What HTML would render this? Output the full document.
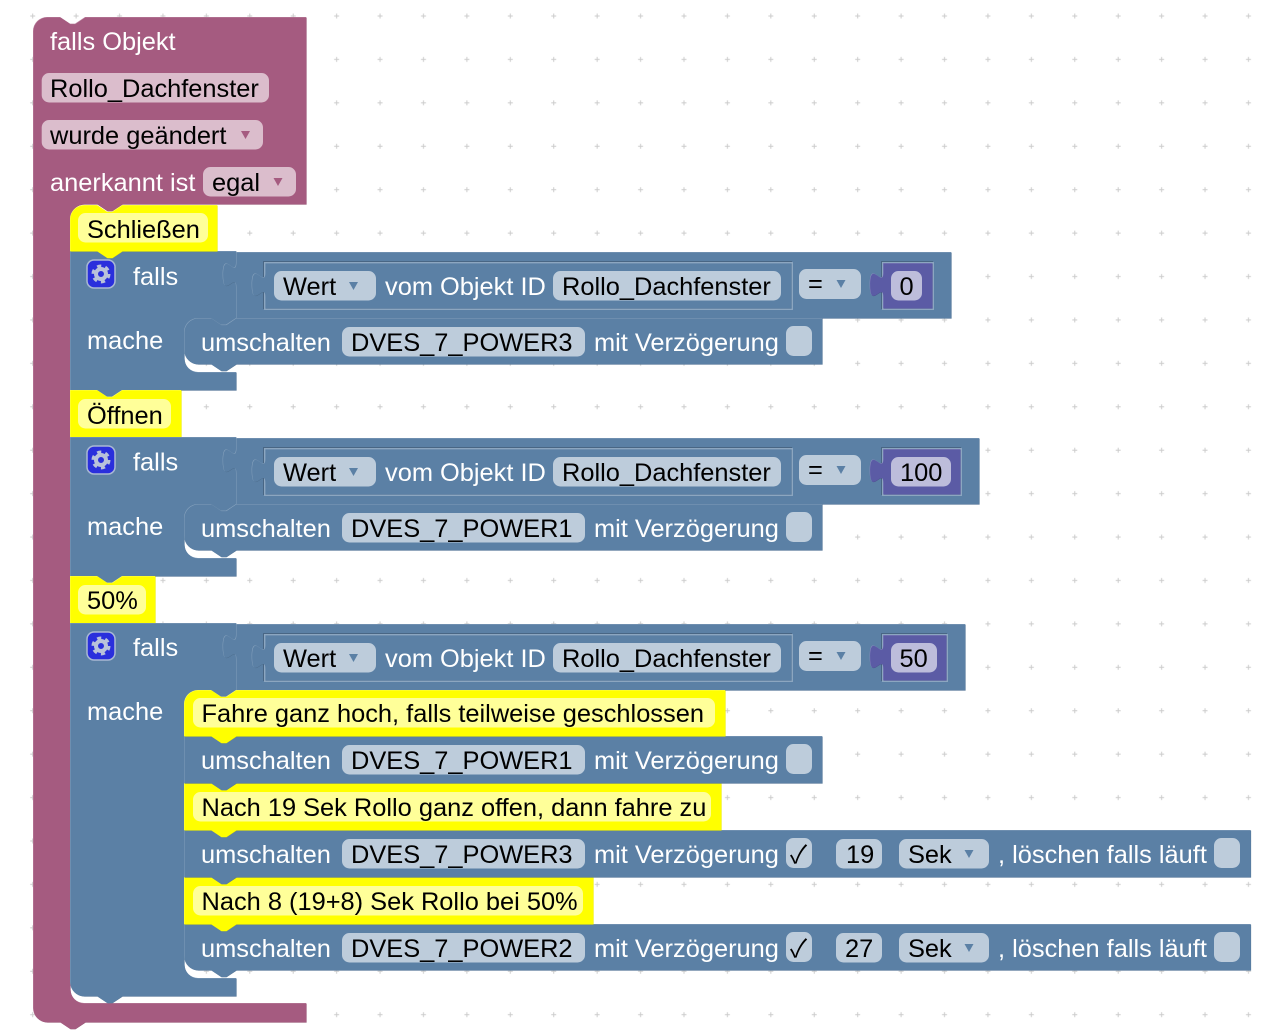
<!DOCTYPE html>
<html><head><meta charset="utf-8">
<style>
html,body{margin:0;padding:0;background:#fff}
svg{display:block}
text{font-family:"Liberation Sans",sans-serif;font-size:25.4px}
.w{fill:#fff}.k{fill:#000}
.fb{fill:#bdccdb}.fp{fill:#dbbdcc}.fy{fill:#ffff99}.fv{fill:#bdbddb}
.ar{fill:#5b80a5}
.d,.sd{fill:#496684}.l,.sl{fill:#8ca6c0}.m{fill:#5b80a5}
.vd{fill:#494984}.vl{fill:#8c8cc0}.vm{fill:#5b5ba5}
.pd{fill:#844966}.pl{fill:#c08ca6}.pm{fill:#a55b80}
.yd{fill:#cccc00}.yl{fill:#ffff66}.ym{fill:#ffff00}
.d,.vd,.pd,.yd{transform:translate(.6px,.6px)}
.m,.vm,.pm,.ym{transform:translate(.4px,.4px)}
.ck{font-family:"Noto Sans CJK JP","DejaVu Sans",sans-serif;font-size:25px}
</style></head>
<body>
<svg xmlns="http://www.w3.org/2000/svg" width="1265" height="1032" viewBox="0 0 1265 1032">
<defs>
<pattern id="g" patternUnits="userSpaceOnUse" x="11" y="-5.7" width="43.42" height="43.42">
<path d="M19.2,21.7h5M21.7,19.2v5" stroke="#ccc" stroke-width="1" fill="none"/>
</pattern>
<path id="pink" d="M33,31a14,14 0 0 1 14,-14H60l10,6.67h5l10,-6.67H306V204H122l-10,6.67h-5l-10,-6.67H84a14,14 0 0 0 -14,14V989a14,14 0 0 0 14,14H306V1022H85l-10,6.67h-5l-10,-6.67H47a14,14 0 0 1 -14,-14Z"/>
<path id="if1" d="M70,251H236V318l-10,6.67h-5l-10,-6.67H198a14,14 0 0 0 -14,14V358a14,14 0 0 0 14,14H236V390H122l-10,6.67h-5l-10,-6.67H70Z"/>
<path id="if2" d="M70,437H236V504l-10,6.67h-5l-10,-6.67H198a14,14 0 0 0 -14,14V544a14,14 0 0 0 14,14H236V576H122l-10,6.67h-5l-10,-6.67H70Z"/>
<path id="if3" d="M70,623H236V690l-10,6.67h-5l-10,-6.67H198a14,14 0 0 0 -14,14V964a14,14 0 0 0 14,14H236V996H122l-10,6.67h-5l-10,-6.67H84a14,14 0 0 1 -14,-14Z"/>
<path id="y1" d="M70,219a14,14 0 0 1 14,-14H97l10,6.67h5l10,-6.67H217V251H122l-10,6.67h-5l-10,-6.67H70Z"/>
<path id="y2" d="M70,390H97l10,6.67h5l10,-6.67H181V437H122l-10,6.67h-5l-10,-6.67H70Z"/>
<path id="y3" d="M70,576H97l10,6.67h5l10,-6.67H155V623H122l-10,6.67h-5l-10,-6.67H70Z"/>
<path id="y4" d="M184,704a14,14 0 0 1 14,-14H211l10,6.67h5l10,-6.67H725V736H236l-10,6.67h-5l-10,-6.67H184Z"/>
<path id="y5" d="M184,783H211l10,6.67h5l10,-6.67H721V830H236l-10,6.67h-5l-10,-6.67H184Z"/>
<path id="y6" d="M184,877H211l10,6.67h5l10,-6.67H593V924H236l-10,6.67h-5l-10,-6.67H184Z"/>
<path id="v1" d="M236,252H951V318H236V287c0,-16.7 -13.3,13.3 -13.3,-12.5s13.3,4.2 13.3,-12.5Z"/>
<path id="v2" d="M236,438H979V504H236V473c0,-16.7 -13.3,13.3 -13.3,-12.5s13.3,4.2 13.3,-12.5Z"/>
<path id="v3" d="M236,624H965V690H236V659c0,-16.7 -13.3,13.3 -13.3,-12.5s13.3,4.2 13.3,-12.5Z"/>
<path id="w1" d="M265,263H791V308H265V297c0,-16.7 -13.3,13.3 -13.3,-12.5s13.3,4.2 13.3,-12.5Z"/>
<path id="n1" d="M883,263H932V308H883V297c0,-16.7 -13.3,13.3 -13.3,-12.5s13.3,4.2 13.3,-12.5Z"/>
<path id="n2" d="M883,449H960V494H883V483c0,-16.7 -13.3,13.3 -13.3,-12.5s13.3,4.2 13.3,-12.5Z"/>
<path id="n3" d="M883,635H946V680H883V669c0,-16.7 -13.3,13.3 -13.3,-12.5s13.3,4.2 13.3,-12.5Z"/>
<path id="u1" d="M184,332a14,14 0 0 1 14,-14H211l10,6.67h5l10,-6.67H822V364H236l-10,6.67h-5l-10,-6.67H198a14,14 0 0 1 -14,-14Z"/>
<path id="u2" d="M184,518a14,14 0 0 1 14,-14H211l10,6.67h5l10,-6.67H822V550H236l-10,6.67h-5l-10,-6.67H198a14,14 0 0 1 -14,-14Z"/>
<path id="u3" d="M184,736H822V783H236l-10,6.67h-5l-10,-6.67H184Z"/>
<path id="u4" d="M184,830H1250.5V877H236l-10,6.67h-5l-10,-6.67H184Z"/>
<path id="u5" d="M184,924H1250.5V970H236l-10,6.67h-5l-10,-6.67H198a14,14 0 0 1 -14,-14Z"/>
<g id="gear">
<circle r="5" fill="none" stroke="#b9c2da" stroke-width="4"/>
<circle r="8" fill="none" stroke="#b9c2da" stroke-width="3" stroke-dasharray="4.2 4.18"/>
</g>
</defs>

<rect width="1265" height="1032" fill="#fff"/>
<rect width="1265" height="1032" fill="url(#g)"/>

<!-- pink -->
<use href="#pink" class="pd"/><use href="#pink" class="pl"/><use href="#pink" class="pm"/>
<rect x="41.7" y="73" width="227.3" height="29.5" rx="7.5" class="fp"/>
<rect x="41.7" y="120" width="221.3" height="29.5" rx="7.5" class="fp"/>
<rect x="203" y="167" width="93" height="29.5" rx="7.5" class="fp"/>
<text x="50" y="50" class="w">falls Objekt</text>
<text x="50" y="97" class="k">Rollo_Dachfenster</text>
<text x="50" y="144" class="k">wurde geändert</text>
<polygon points="241,131 250,131 245.5,139" fill="#a55b80"/>
<text x="50" y="191" class="w">anerkannt ist</text>
<text x="212" y="191" class="k">egal</text>
<polygon points="273.5,178 282.5,178 278,186" fill="#a55b80"/>

<!-- block 1 -->
<use href="#if1" class="d"/><use href="#if1" class="l"/><use href="#if1" class="m"/>
<use href="#y1" class="yd"/><use href="#y1" class="yl"/><use href="#y1" class="ym"/>
<rect x="78" y="213" width="130" height="29.5" rx="7.5" class="fy"/>
<text x="87" y="238" class="k">Schließen</text>
<rect x="87" y="260" width="28" height="28" rx="7" fill="#2a2fdc" stroke="#a9b8d4" stroke-width="1.5"/>
<use href="#gear" x="101" y="274"/>
<text x="133" y="285" class="w">falls</text>
<text x="87" y="349" class="w">mache</text>
<use href="#v1" class="d"/><use href="#v1" class="l"/><use href="#v1" class="m"/>
<rect x="263" y="261" width="529" height="48" class="sd"/><rect x="264" y="262" width="529" height="48" class="sl"/>
<use href="#w1" class="d"/><use href="#w1" class="l"/><use href="#w1" class="m"/>
<rect x="274" y="271" width="102" height="29.5" rx="7.5" class="fb"/>
<text x="283" y="295" class="k">Wert</text>
<polygon points="349,282 358,282 353.5,290" class="ar"/>
<text x="385" y="295" class="w">vom Objekt ID</text>
<rect x="553" y="271" width="228" height="29.5" rx="7.5" class="fb"/>
<text x="562" y="295" class="k">Rollo_Dachfenster</text>
<rect x="799" y="269" width="62" height="30" rx="7.5" class="fb"/>
<text x="808" y="292" class="k">=</text>
<polygon points="836.5,280 845.5,280 841,288" class="ar"/>
<rect x="881" y="261" width="52" height="48" class="sd"/><rect x="882" y="262" width="52" height="48" class="sl"/>
<use href="#n1" class="vd"/><use href="#n1" class="vl"/><use href="#n1" class="vm"/>
<rect x="891" y="271" width="31" height="29.5" rx="7.5" class="fv"/>
<text x="899.5" y="295" class="k">0</text>
<use href="#u1" class="d"/><use href="#u1" class="l"/><use href="#u1" class="m"/>
<text x="201" y="351" class="w">umschalten</text>
<rect x="342" y="327" width="243" height="29.5" rx="7.5" class="fb"/>
<text x="351" y="351" class="k">DVES_7_POWER3</text>
<text x="594" y="351" class="w">mit Verzögerung</text>
<rect x="786" y="326" width="26" height="30" rx="7.5" class="fb"/>

<!-- block 2 -->
<use href="#y2" class="yd"/><use href="#y2" class="yl"/><use href="#y2" class="ym"/>
<rect x="78" y="399" width="93" height="29.5" rx="7.5" class="fy"/>
<text x="87" y="424" class="k">Öffnen</text>
<use href="#if2" class="d"/><use href="#if2" class="l"/><use href="#if2" class="m"/>
<use href="#y2" class="ym" style="clip-path:inset(437px 0 0 0)"/>
<rect x="87" y="446" width="28" height="28" rx="7" fill="#2a2fdc" stroke="#a9b8d4" stroke-width="1.5"/>
<use href="#gear" x="101" y="460"/>
<text x="133" y="470.5" class="w">falls</text>
<text x="87" y="535" class="w">mache</text>
<use href="#v2" class="d"/><use href="#v2" class="l"/><use href="#v2" class="m"/>
<g transform="translate(0,186)">
<rect x="263" y="261" width="529" height="48" class="sd"/><rect x="264" y="262" width="529" height="48" class="sl"/>
<use href="#w1" class="d"/><use href="#w1" class="l"/><use href="#w1" class="m"/>
<rect x="274" y="271" width="102" height="29.5" rx="7.5" class="fb"/>
<text x="283" y="295" class="k">Wert</text>
<polygon points="349,282 358,282 353.5,290" class="ar"/>
<text x="385" y="295" class="w">vom Objekt ID</text>
<rect x="553" y="271" width="228" height="29.5" rx="7.5" class="fb"/>
<text x="562" y="295" class="k">Rollo_Dachfenster</text>
<rect x="799" y="269" width="62" height="30" rx="7.5" class="fb"/>
<text x="808" y="292" class="k">=</text>
<polygon points="836.5,280 845.5,280 841,288" class="ar"/>
</g>
<rect x="881" y="447" width="80" height="48" class="sd"/><rect x="882" y="448" width="80" height="48" class="sl"/>
<use href="#n2" class="vd"/><use href="#n2" class="vl"/><use href="#n2" class="vm"/>
<rect x="891" y="457" width="60" height="29.5" rx="7.5" class="fv"/>
<text x="900" y="481" class="k">100</text>
<use href="#u2" class="d"/><use href="#u2" class="l"/><use href="#u2" class="m"/>
<text x="201" y="537" class="w">umschalten</text>
<rect x="342" y="513" width="243" height="29.5" rx="7.5" class="fb"/>
<text x="351" y="537" class="k">DVES_7_POWER1</text>
<text x="594" y="537" class="w">mit Verzögerung</text>
<rect x="786" y="512" width="26" height="30" rx="7.5" class="fb"/>

<!-- block 3 -->
<use href="#y3" class="yd"/><use href="#y3" class="yl"/><use href="#y3" class="ym"/>
<rect x="78" y="585" width="68" height="29.5" rx="7.5" class="fy"/>
<text x="87" y="609" class="k">50%</text>
<use href="#if3" class="d"/><use href="#if3" class="l"/><use href="#if3" class="m"/>
<use href="#y3" class="ym" style="clip-path:inset(623px 0 0 0)"/>
<rect x="87" y="632" width="28" height="28" rx="7" fill="#2a2fdc" stroke="#a9b8d4" stroke-width="1.5"/>
<use href="#gear" x="101" y="646"/>
<text x="133" y="656" class="w">falls</text>
<text x="87" y="720" class="w">mache</text>
<use href="#v3" class="d"/><use href="#v3" class="l"/><use href="#v3" class="m"/>
<g transform="translate(0,372)">
<rect x="263" y="261" width="529" height="48" class="sd"/><rect x="264" y="262" width="529" height="48" class="sl"/>
<use href="#w1" class="d"/><use href="#w1" class="l"/><use href="#w1" class="m"/>
<rect x="274" y="271" width="102" height="29.5" rx="7.5" class="fb"/>
<text x="283" y="295" class="k">Wert</text>
<polygon points="349,282 358,282 353.5,290" class="ar"/>
<text x="385" y="295" class="w">vom Objekt ID</text>
<rect x="553" y="271" width="228" height="29.5" rx="7.5" class="fb"/>
<text x="562" y="295" class="k">Rollo_Dachfenster</text>
<rect x="799" y="269" width="62" height="30" rx="7.5" class="fb"/>
<text x="808" y="292" class="k">=</text>
<polygon points="836.5,280 845.5,280 841,288" class="ar"/>
</g>
<rect x="881" y="633" width="66" height="48" class="sd"/><rect x="882" y="634" width="66" height="48" class="sl"/>
<use href="#n3" class="vd"/><use href="#n3" class="vl"/><use href="#n3" class="vm"/>
<rect x="891" y="643" width="46" height="29.5" rx="7.5" class="fv"/>
<text x="899.5" y="667" class="k">50</text>

<use href="#u5" class="d"/><use href="#u5" class="l"/><use href="#u5" class="m"/>
<use href="#y6" class="yd"/><use href="#y6" class="yl"/><use href="#y6" class="ym"/>
<use href="#u4" class="d"/><use href="#u4" class="l"/><use href="#u4" class="m"/>
<use href="#y5" class="yd"/><use href="#y5" class="yl"/><use href="#y5" class="ym"/>
<use href="#u3" class="d"/><use href="#u3" class="l"/><use href="#u3" class="m"/>
<use href="#y4" class="yd"/><use href="#y4" class="yl"/><use href="#y4" class="ym"/>

<rect x="193" y="698" width="522" height="29.5" rx="7.5" class="fy"/>
<text x="201.5" y="722" class="k">Fahre ganz hoch, falls teilweise geschlossen</text>
<text x="201" y="769" class="w">umschalten</text>
<rect x="342" y="745" width="243" height="29.5" rx="7.5" class="fb"/>
<text x="351" y="769" class="k">DVES_7_POWER1</text>
<text x="594" y="769" class="w">mit Verzögerung</text>
<rect x="786" y="744" width="26" height="30" rx="7.5" class="fb"/>

<rect x="193" y="792" width="518" height="29.5" rx="7.5" class="fy"/>
<text x="201.5" y="816" class="k">Nach 19 Sek Rollo ganz offen, dann fahre zu</text>
<text x="201" y="863" class="w">umschalten</text>
<rect x="342" y="839" width="243" height="29.5" rx="7.5" class="fb"/>
<text x="351" y="863" class="k">DVES_7_POWER3</text>
<text x="594" y="863" class="w">mit Verzögerung</text>
<rect x="786" y="838" width="26" height="30" rx="7.5" class="fb"/>
<text x="790" y="863" class="k ck">✓</text>
<rect x="836" y="839" width="46" height="29.5" rx="7.5" class="fb"/>
<text x="846" y="863" class="k">19</text>
<rect x="899" y="839" width="90" height="29.5" rx="7.5" class="fb"/>
<text x="908" y="863" class="k">Sek</text>
<polygon points="964.5,850 973.5,850 969,858" class="ar"/>
<text x="998" y="863" class="w">, löschen falls läuft</text>
<rect x="1214" y="838" width="26" height="30" rx="7.5" class="fb"/>

<rect x="193" y="886" width="390" height="29.5" rx="7.5" class="fy"/>
<text x="201.5" y="910" class="k">Nach 8 (19+8) Sek Rollo bei 50%</text>
<text x="201" y="957" class="w">umschalten</text>
<rect x="342" y="933" width="243" height="29.5" rx="7.5" class="fb"/>
<text x="351" y="957" class="k">DVES_7_POWER2</text>
<text x="594" y="957" class="w">mit Verzögerung</text>
<rect x="786" y="932" width="26" height="30" rx="7.5" class="fb"/>
<text x="790" y="957" class="k ck">✓</text>
<rect x="836" y="933" width="46" height="29.5" rx="7.5" class="fb"/>
<text x="845" y="957" class="k">27</text>
<rect x="899" y="933" width="90" height="29.5" rx="7.5" class="fb"/>
<text x="908" y="957" class="k">Sek</text>
<polygon points="964.5,944 973.5,944 969,952" class="ar"/>
<text x="998" y="957" class="w">, löschen falls läuft</text>
<rect x="1214" y="932" width="26" height="30" rx="7.5" class="fb"/>
</svg>
</body></html>
